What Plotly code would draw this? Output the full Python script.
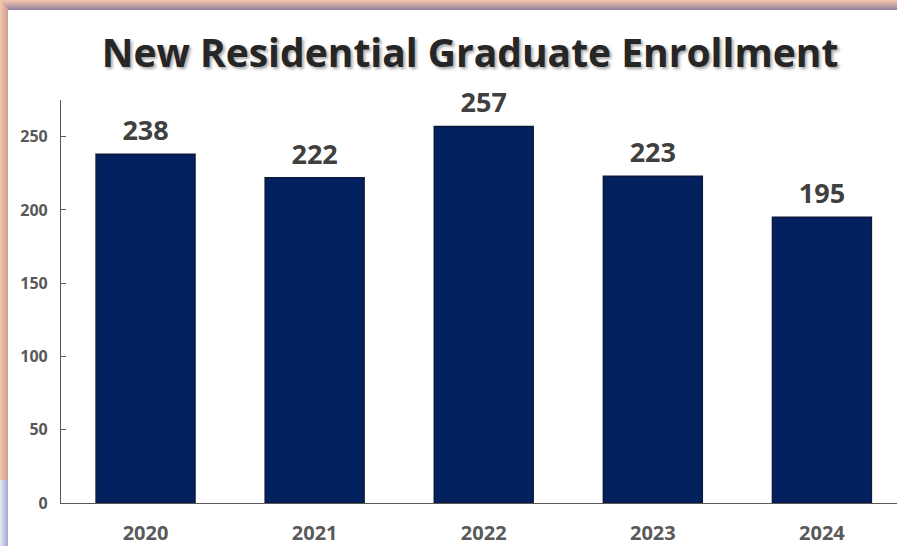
import plotly.graph_objects as go

years = ["2020", "2021", "2022", "2023", "2024"]
enrollment = [238, 222, 257, 223, 195]
y_ticks = [0, 50, 100, 150, 200, 250]
title_text = "New Residential Graduate Enrollment"

W, H = 897, 546
ML, MR, MT, MB = 61, 0, 100, 43
PW, PH = W - ML - MR, H - MT - MB

def px_x(p):
    return (p - ML) / PW

def px_y(p):
    return (H - MB - p) / PH

def lerp(c1, c2, t):
    return "rgb(%d,%d,%d)" % tuple(round(a + (b - a) * t) for a, b in zip(c1, c2))

fig = go.Figure()
fig.add_trace(go.Bar(
    x=years, y=enrollment,
    marker=dict(color="#03215f", line=dict(color="#0b1838", width=1.5)),
    width=0.585,
    hoverinfo="skip",
))
fig.add_trace(go.Scatter(
    x=years, y=enrollment,
    mode="markers+text",
    text=["<b>%d</b>" % v for v in enrollment],
    textposition="top center",
    marker=dict(size=10, opacity=0),
    textfont=dict(family="Open Sans", size=27, color="#404040"),
    hoverinfo="skip",
    cliponaxis=False,
))

shapes = []
peach = (243, 196, 170)
mauve = (150, 130, 160)
n = 10
for i in range(n):
    shapes.append(dict(type="rect", xref="paper", yref="paper",
                       x0=px_x(0), x1=px_x(W), y0=px_y(i + 1), y1=px_y(i),
                       fillcolor=lerp(peach, mauve, i / (n - 1)), line=dict(width=0), layer="above"))
m = 8
for i in range(m):
    shapes.append(dict(type="rect", xref="paper", yref="paper",
                       x0=px_x(i), x1=px_x(i + 1), y0=px_y(480), y1=px_y(min(i + 1, 10)),
                       fillcolor=lerp(peach, (205, 160, 150), i / (m - 1)), line=dict(width=0), layer="above"))
lav1, lav2 = (226, 228, 242), (165, 172, 212)
for i in range(m):
    shapes.append(dict(type="rect", xref="paper", yref="paper",
                       x0=px_x(i), x1=px_x(i + 1), y0=px_y(H), y1=px_y(480),
                       fillcolor=lerp(lav1, lav2, i / (m - 1)), line=dict(width=0), layer="above"))

fig.update_layout(
    width=W, height=H,
    margin=dict(l=ML, r=MR, t=MT, b=MB),
    paper_bgcolor="white", plot_bgcolor="white",
    showlegend=False,
    shapes=shapes,
    title=dict(text="<b>" + title_text + "</b>", x=470 / W, xanchor="center", xref="container",
               y=1 - 53 / H, yanchor="middle", yref="container",
               font=dict(family="Open Sans", size=39, color="#262626",
                         shadow="2px 2px 3px rgba(0,0,0,0.35)")),
    xaxis=dict(
        type="category", range=[-0.5, 4.444],
        showline=True, linecolor="#595959", linewidth=1.2,
        ticks="", showgrid=False, zeroline=False,
        tickfont=dict(family="Open Sans", size=20, color="#595959", weight="bold"),
        ticklabelstandoff=12,
    ),
    yaxis=dict(
        range=[0, 275], tickvals=y_ticks,
        showline=True, linecolor="#595959", linewidth=1.2,
        ticks="inside", ticklen=5, tickcolor="#595959",
        showgrid=False, zeroline=False,
        tickfont=dict(family="Open Sans", size=16, color="#595959", weight="bold"),
        ticklabelstandoff=9,
    ),
)

fig.write_html("out.html", config={"displayModeBar": False},
               post_script="document.body.style.margin='0';document.body.style.overflow='hidden';")
